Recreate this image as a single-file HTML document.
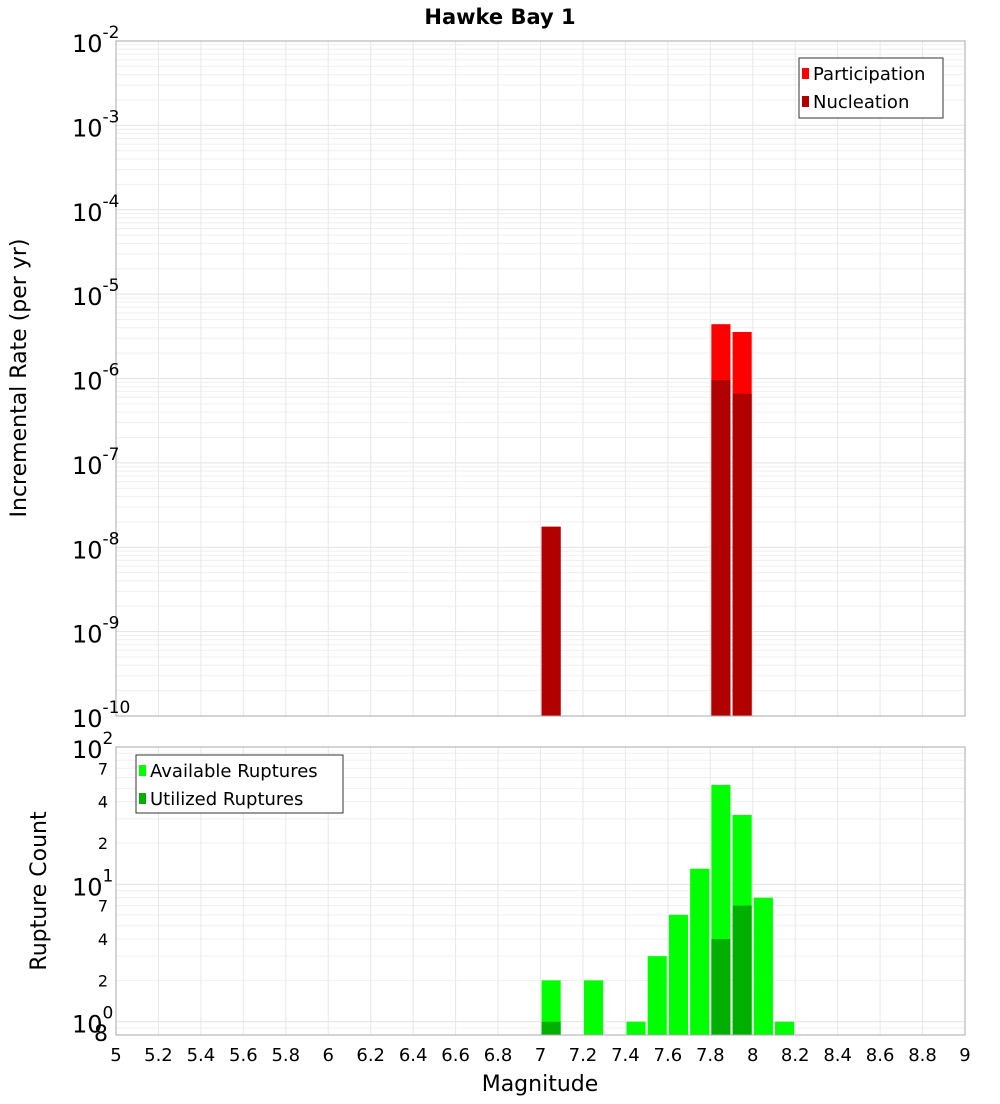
<!DOCTYPE html>
<html><head><meta charset="utf-8"><style>
body{margin:0;background:#fff;width:1000px;height:1100px;overflow:hidden;font-family:"DejaVu Sans","Liberation Sans",sans-serif}
</style></head><body>
<svg id="c" width="1000" height="1100" xmlns="http://www.w3.org/2000/svg" font-family="DejaVu Sans, Liberation Sans, sans-serif"></svg>
<script>
const rateBins=[7.05,7.85,7.95];
const participation=[1.75e-8,4.4e-6,3.56e-6];
const nucleation=[1.75e-8,9.6e-7,6.6e-7];
const countBins=[7.05,7.25,7.45,7.55,7.65,7.75,7.85,7.95,8.05,8.15];
const available=[2,2,1,3,6,13,53,32,8,1];
const utilizedBins=[7.05,7.85,7.95];
const utilized=[1,4,7];
const xTicks=[5,5.2,5.4,5.6,5.8,6,6.2,6.4,6.6,6.8,7,7.2,7.4,7.6,7.8,8,8.2,8.4,8.6,8.8,9];
const topExps=[-2,-3,-4,-5,-6,-7,-8,-9,-10];
const botMinor=[2,4,7];

const S=document.getElementById('c');const NS='http://www.w3.org/2000/svg';
function el(t,a,txt){const e=document.createElementNS(NS,t);for(const k in a)e.setAttribute(k,a[k]);if(txt!==undefined)e.textContent=txt;S.appendChild(e);return e;}
const X0=116,X1=965;
const x=v=>X0+(v-5)/(9-5)*(X1-X0);
const T0=41,T1=716;
const yT=v=>T0+(-2-Math.log10(v))/8*(T1-T0);
const B0=747,B1=1035;
const bLo=Math.log10(0.8),bHi=2;
const yB=v=>B0+(bHi-Math.log10(v))/(bHi-bLo)*(B1-B0);

let t=el('text',{x:500,y:24,'text-anchor':'middle','font-size':21,'font-weight':'bold'},'Hawke Bay 1');


// top grid
for(let e=-10;e<-2;e++)for(let m=1;m<10;m++){const v=m*Math.pow(10,e);const y=yT(v);
 const l=el('line',{x1:X0,x2:X1,y1:y,y2:y,stroke:m==1?'#e2e2e2':'#efefef','stroke-width':1});
 }
for(const v of xTicks){const l=el('line',{x1:x(v),x2:x(v),y1:T0,y2:T1,stroke:'#e8e8e8'});
 }
// bottom grid
for(let e=-1;e<2;e++)for(let m=1;m<10;m++){const v=m*Math.pow(10,e);if(v<0.8)continue;const y=yB(v);
 const l=el('line',{x1:X0,x2:X1,y1:y,y2:y,stroke:m==1?'#e2e2e2':'#efefef'});
 }
for(const v of xTicks){const l=el('line',{x1:x(v),x2:x(v),y1:B0,y2:B1,stroke:'#e8e8e8'});
 }

// top bars
const hw=0.045;
participation.forEach((v,i)=>{const r=el('rect',{x:x(rateBins[i]-hw),y:yT(v),width:x(rateBins[i]+hw)-x(rateBins[i]-hw),height:T1-yT(v),fill:'#ff0000'});
 });
nucleation.forEach((v,i)=>{const r=el('rect',{x:x(rateBins[i]-hw),y:yT(v),width:x(rateBins[i]+hw)-x(rateBins[i]-hw),height:T1-yT(v),fill:'#b00000'});
 });
// bottom bars
available.forEach((v,i)=>{const r=el('rect',{x:x(countBins[i]-hw),y:yB(v),width:x(countBins[i]+hw)-x(countBins[i]-hw),height:B1-yB(v),fill:'#00ff00'});
 });
utilized.forEach((v,i)=>{const r=el('rect',{x:x(utilizedBins[i]-hw),y:yB(v),width:x(utilizedBins[i]+hw)-x(utilizedBins[i]-hw),height:B1-yB(v),fill:'#00b000'});
 });

// frames
let f=el('rect',{x:X0,y:T0,width:X1-X0,height:T1-T0,fill:'none',stroke:'#aaa'});
f=el('rect',{x:X0,y:B0,width:X1-X0,height:B1-B0,fill:'none',stroke:'#aaa'});

// top y labels
for(const e of topExps){const y=yT(Math.pow(10,e));
 const g=el('text',{x:72,y:y+11,'font-size':24});
 g.textContent='10';const s=document.createElementNS(NS,'tspan');s.setAttribute('dy',-14);s.setAttribute('font-size',17);s.textContent=String(e);g.appendChild(s);}
// bottom y labels
[2,1,0].forEach(e=>{const y=yB(Math.pow(10,e));
 const g=el('text',{x:72,y:y+11,'font-size':24});
 g.textContent='10';const s=document.createElementNS(NS,'tspan');s.setAttribute('dy',-14);s.setAttribute('font-size',17);s.textContent=String(e);g.appendChild(s);});
[0,1].forEach(e=>botMinor.forEach(m=>{const y=yB(m*Math.pow(10,e));
 const g=el('text',{x:108,y:y+6,'font-size':16,'text-anchor':'end'},String(m));}));
t=el('text',{x:108,y:1041,'font-size':22,'text-anchor':'end'},'8');

// x tick labels
for(const v of xTicks){const g=el('text',{x:x(v),y:1061,'font-size':18,'text-anchor':'middle'},String(v));
 }
t=el('text',{x:540,y:1091,'font-size':22,'text-anchor':'middle'},'Magnitude');
t=el('text',{x:0,y:0,'font-size':22,'text-anchor':'middle',transform:'translate(26,378) rotate(-90)'},'Incremental Rate (per yr)');
t=el('text',{x:0,y:0,'font-size':22,'text-anchor':'middle',transform:'translate(46,891) rotate(-90)'},'Rupture Count');

// legends
function legend(bx,by,w,h,items,nm){const r=el('rect',{x:bx,y:by,width:w,height:h,fill:'#fff',stroke:'#333'});
 items.forEach((it,i)=>{const yy=by+15+i*28;
  const s=el('rect',{x:bx+3,y:yy-5,width:7,height:11,fill:it[1]});
  const tx=el('text',{x:bx+14,y:yy+7,'font-size':18},it[0]);});}
legend(799,58,144,60,[['Participation','#ff0000'],['Nucleation','#b00000']],'top-legend');
legend(136,755,207,58,[['Available Ruptures','#00ff00'],['Utilized Ruptures','#00b000']],'bottom-legend');
</script>
</body></html>
